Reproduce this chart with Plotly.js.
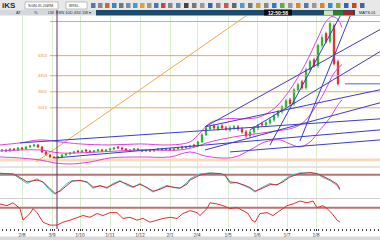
<!DOCTYPE html>
<html><head><meta charset="utf-8">
<script src="https://cdn.plot.ly/plotly-3.0.1.min.js"></script>
<style>html,body{margin:0;padding:0;background:#fff;}#c{width:380px;height:240px;}</style>
</head><body><div id="c"></div>
<script>
// ---- candles (bar index, price units) ----
const barIdx = Array.from({length:85},(_,i)=>i);
const openP = [15,16,15,17,16,18,17,19,20,21, 19,14,11,9,8,9,11,12,13,15, 14,16,15,14,15,16,15,16,17,19, 18,17,15,16,17,16,15,16,15,16, 17,16,17,16,17,19,18,19,21,20, 24,31,37,40,37,40,38,36,38,39, 37,34,30,34,38,42,41,43,46,50, 54,59,66,62,76,84,78,96,106,100, 120,132,124,140,104];
const closeP = [16,15,17,16,18,17,19,20,21,19, 14,11,9,8,9,11,12,13,14,14, 15,15,14,15,16,15,16,17,18,18, 17,16,16,17,16,15,16,15,16,17, 16,17,16,17,18,18,19,20,20,24, 31,38,39,38,39,38,37,38,39,37, 34,30,34,38,40,41,43,46,50,54, 59,65,62,76,81,78,96,104,100,120, 128,124,142,102,82];
const highP = [17,17,18,18,19,19,20,21,22,22, 20,15,12,10,10,12,13,14,15,16, 16,17,16,16,17,17,17,18,19,20, 19,18,17,18,18,17,17,17,17,18, 18,18,18,18,19,20,20,21,22,25, 33,40,41,42,41,42,40,40,41,41, 39,36,36,40,42,44,45,48,52,56, 61,67,68,78,83,86,98,106,108,122, 131,134,145,142,106];
const lowP = [14,14,14,15,15,16,16,18,19,18, 13,10,8,7,7,8,10,11,12,13, 13,14,13,13,14,14,14,15,16,17, 16,15,14,15,15,14,14,14,14,15, 15,15,15,15,16,17,17,18,19,19, 23,30,36,36,35,36,35,34,36,35, 32,28,28,32,36,39,39,41,44,48, 52,57,60,60,74,76,76,94,98,98, 118,122,122,100,80];

// ---- Bollinger-style bands ----
const upX = [-0.5,4.5,9.5,14.5,19.5,27,34.5,42,47,49.5,52,55.75,60.75,64.5,68.25,72,75.75,79,81,82.5,84,85];
const upY = [21,23,26,24,22,21,22,21,24,33,43,47,47,49,58,76,101,128,144,149,146,138];
const loX = [-0.5,4.5,9.5,13.25,17,22,27,34.5,42,47,50.75,54.5,58.25,62,65.75,69.5,72,74.5,77,79.5,82,84,85];
const loY = [9,8,6,3,2,4,8,9,9,14,10,8,9,16,24,26,22,19,24,36,48,61,66];
const midX = [-0.5,9.5,14.5,24.5,34.5,44.5,48.25,52,59.5,67,74.5,79.5,83.25,85];
const midY = [15,16,13,14,16,16,19,24,30,34,41,66,94,101];

// ---- trend lines (x0,y0,x1,y1) ----
const trendX0 = [4.5,13.25,50.75,62,50.75,50.75,57,67,74.5];
const trendY0 = [23,8,39,36,39,16,14,21,25];
const trendX1 = [94.5,94.5,94.5,94.5,94.5,94.5,94.5,84.6,87.1];
const trendY1 = [47,36,136,114,76,63,26,150,150];

// ---- horizontal levels ----
const levelY = [144,110,90,74,58];
const levelLabels = ["","6353","4353","3652","5013"];
const levelStartX = 12;
const diagX = [8.5,61.5];
const diagY = [4,151];
const supportY = 6;
const lastLineX = [85.75,94.5];
const lastLineY = [82,82];
const cursorX = 13.75;

// ---- stochastic ----
const stochX = [-0.5,2.75,4,6.25,8.75,10.25,12,13.25,14.5,16.25, 17.5,19.5,21.25,22.75,24.5,26.25,27.75,29.5,31.25,32.75, 34.5,36.25,37.75,39.5,41.25,42.75,44.5,46.25,47,49.5, 52,54.5,55.75,57,58.75,60.25,62,63.25,64.5,67, 68.75,70.25,72,74.5,77,78.75,80.25,82,83.75,84.5];
const stochK = [78,78,66,47,62,50,25,12,25,47, 56,56,50,31,41,31,47,56,41,34, 47,31,19,31,41,34,31,50,62,78, 81,78,72,47,50,41,31,19,31,47, 41,56,72,81,81,78,66,56,41,25];
const stochD = [80,77,70,52,58,52,30,15,22,42, 54,57,52,35,39,34,44,54,45,36, 44,34,22,28,38,36,32,45,58,74, 80,79,74,52,49,43,34,22,28,43, 43,52,68,79,82,79,70,59,45,29];
const stochLevel = 75;

// ---- RSI ----
const rsiX = [-0.5,1.25,2.75,4.5,5.25,7,7.75,8.75,10.25,12, 13.75,15.25,17,18.75,20.25,22,23.75,25.25,27,28.75, 30.25,32,33.75,35.25,37,38.75,40.25,42,43.75,45.25, 47,48.75,49.5,51.25,52,53.75,55.25,57,58.75,60.25, 61.5,62.5,63.25,64.5,66.25,67.75,69.5,71.25,72.75,74.5, 76.25,77.75,78.75,80.25,81.25,82.5,83.75,84.5];
const rsiY = [83,77,87,67,27,50,67,53,20,10, 10,20,27,37,43,37,50,43,53,53, 33,37,27,33,20,27,33,37,33,50, 60,53,43,67,87,83,77,67,70,60, 50,27,20,50,53,43,60,77,83,93, 87,93,70,77,67,50,27,20];
const rsiLevel = 70;

// ---- x axis ticks ----
const tickVals = [5,12.5,19.5,27,34.5,42,48.75,56.5,63.75,71.25,78.5];
const tickText = ["2/8","3/9","1/10","1/11","1/12","2/1","2/4","1/5","1/6","1/7","1/8"];
const xRange = [-0.5,94.5];

const BLUE = '#3b3bc9', MAG = '#dd44dd', ORANGE = '#f0a850';
const traces = [];
levelY.forEach(v=>traces.push({x:[levelStartX,xRange[1]],y:[v,v],mode:'lines',line:{color:ORANGE,width:1},hoverinfo:'skip'}));
traces.push({x:xRange,y:[supportY,supportY],mode:'lines',line:{color:'#f7d9bd',width:3},hoverinfo:'skip'});
traces.push({x:diagX,y:diagY,mode:'lines',line:{color:ORANGE,width:1},hoverinfo:'skip'});
traces.push({x:upX,y:upY,mode:'lines',line:{color:MAG,width:1,shape:'spline'},hoverinfo:'skip'});
traces.push({x:loX,y:loY,mode:'lines',line:{color:MAG,width:1,shape:'spline'},hoverinfo:'skip'});
traces.push({x:midX,y:midY,mode:'lines',line:{color:MAG,width:1,shape:'spline'},hoverinfo:'skip'});
trendX0.forEach((x0,i)=>traces.push({x:[x0,trendX1[i]],y:[trendY0[i],trendY1[i]],mode:'lines',line:{color:BLUE,width:1},hoverinfo:'skip'}));
traces.push({x:lastLineX,y:lastLineY,mode:'lines',line:{color:'#8d9cc4',width:1.5},hoverinfo:'skip'});
traces.push({type:'candlestick',x:barIdx,open:openP,high:highP,low:lowP,close:closeP,
  increasing:{line:{color:'#1fae1f',width:0.8},fillcolor:'#1fae1f'},
  decreasing:{line:{color:'#e02020',width:0.8},fillcolor:'#e02020'},whiskerwidth:0,hoverinfo:'skip'});
traces.push({x:xRange,y:[stochLevel,stochLevel],yaxis:'y2',mode:'lines',line:{color:'#b87474',width:2},hoverinfo:'skip'});
traces.push({x:stochX,y:stochK,yaxis:'y2',mode:'lines',line:{color:'#3cc8c8',width:1},hoverinfo:'skip'});
traces.push({x:stochX,y:stochD,yaxis:'y2',mode:'lines',line:{color:'#c83040',width:1},hoverinfo:'skip'});
traces.push({x:xRange,y:[rsiLevel,rsiLevel],yaxis:'y3',mode:'lines',line:{color:'#b87474',width:2},hoverinfo:'skip'});
traces.push({x:rsiX,y:rsiY,yaxis:'y3',mode:'lines',line:{color:'#e03030',width:1},hoverinfo:'skip'});

const H = 240;
const py = p => 1 - p/H;
const px = p => p/380;
const shapes = [];
const annotations = [];
shapes.push({type:'rect',xref:'paper',yref:'paper',x0:0,x1:1,y0:py(10),y1:1,fillcolor:'#e8e8e8',line:{width:0},layer:'below'});
shapes.push({type:'rect',xref:'paper',yref:'paper',x0:0,x1:px(96),y0:py(15.5),y1:py(10),fillcolor:'#d3d9de',line:{width:0}});
shapes.push({type:'rect',xref:'paper',yref:'paper',x0:px(96),x1:1,y0:py(15.5),y1:py(10),fillcolor:'#1d4b6c',line:{width:0}});
shapes.push({type:'rect',xref:'paper',yref:'paper',x0:px(264),x1:px(292),y0:py(15.5),y1:py(9.5),fillcolor:'#0c0c14',line:{width:0}});
shapes.push({type:'rect',xref:'paper',yref:'paper',x0:px(324),x1:px(333),y0:py(15),y1:py(10.5),fillcolor:'#c9e8b0',line:{width:0}});
shapes.push({type:'rect',xref:'paper',yref:'paper',x0:px(333),x1:px(343),y0:py(15),y1:py(10.5),fillcolor:'#2f7d2f',line:{width:0}});
shapes.push({type:'rect',xref:'paper',yref:'paper',x0:px(343),x1:px(353),y0:py(15),y1:py(10.5),fillcolor:'#a02828',line:{width:0}});
shapes.push({type:'rect',xref:'paper',yref:'paper',x0:px(355),x1:1,y0:py(15.5),y1:py(10),fillcolor:'#e4e4e4',line:{width:0}});
shapes.push({type:'rect',xref:'paper',yref:'paper',x0:px(25),x1:px(58),y0:py(9),y1:py(2),fillcolor:'#ffffff',line:{color:'#9a9a9a',width:0.6}});
shapes.push({type:'rect',xref:'paper',yref:'paper',x0:px(66),x1:px(87),y0:py(9),y1:py(2),fillcolor:'#ffffff',line:{color:'#9a9a9a',width:0.6}});
const iconX = [91,98,105,112,119,126,133,140,147,154,161,168,176,184,192,200,208,216,224,232,240,248,256,264,272,280,288,296,304,312,320,328,336,344,352,360];
const iconC = ['#5577aa','#888','#cc6633','#3388cc','#777','#6a8fc0','#3aa0d0','#e2a030','#999','#4477bb','#cc4444','#888','#6688aa','#444','#777','#999','#3366aa','#888','#cc5555','#666','#5599cc','#777','#c9a040','#888','#3a7ab8','#66aa44','#999','#d08a30','#5577aa','#999','#cc8833','#3a8ad0','#88aa33','#3366bb','#cc4422','#446699'];
iconX.forEach((x,i)=>shapes.push({type:'rect',xref:'paper',yref:'paper',x0:px(x),x1:px(x+4.5),y0:py(8),y1:py(3),fillcolor:iconC[i],line:{width:0}}));
shapes.push({type:'line',xref:'paper',yref:'paper',x0:0,x1:1,y0:py(167),y1:py(167),line:{color:'#c9c9c9',width:1}});
shapes.push({type:'line',xref:'paper',yref:'paper',x0:0,x1:1,y0:py(198.5),y1:py(198.5),line:{color:'#d0d0d0',width:1}});
shapes.push({type:'rect',xref:'paper',yref:'paper',x0:0,x1:1,y0:0,y1:py(236.5),fillcolor:'#d9d9d9',line:{width:0}});
shapes.push({type:'line',xref:'x',yref:'paper',x0:cursorX,x1:cursorX,y0:py(229),y1:py(10),line:{color:'#6a2d6a',width:1}});

const tf = 'Liberation Sans, Arial, sans-serif';
annotations.push({xref:'paper',yref:'paper',x:0,y:py(5),xanchor:'left',yanchor:'middle',text:'<b>iKS</b>',showarrow:false,font:{family:tf,size:8,color:'#1c2a44'}});
annotations.push({xref:'paper',yref:'paper',x:px(26),y:py(5.5),xanchor:'left',yanchor:'middle',text:'SGN-III-20ИМ',showarrow:false,font:{family:tf,size:4,color:'#333'}});
annotations.push({xref:'paper',yref:'paper',x:px(67),y:py(5.5),xanchor:'left',yanchor:'middle',text:'8RSL',showarrow:false,font:{family:tf,size:4,color:'#333'}});
annotations.push({xref:'paper',yref:'paper',x:px(14),y:py(12.8),xanchor:'left',yanchor:'middle',text:'AT',showarrow:false,font:{family:tf,size:4,color:'#333'}});
annotations.push({xref:'paper',yref:'paper',x:px(32),y:py(12.8),xanchor:'left',yanchor:'middle',text:'%',showarrow:false,font:{family:tf,size:4,color:'#333'}});
annotations.push({xref:'paper',yref:'paper',x:px(46),y:py(12.8),xanchor:'left',yanchor:'middle',text:'LW  ESN 10D 4X4 1W ▾',showarrow:false,font:{family:tf,size:4,color:'#333'}});
annotations.push({xref:'paper',yref:'paper',x:px(278),y:py(12.6),xanchor:'center',yanchor:'middle',text:'<b>12:50:58</b>',showarrow:false,font:{family:tf,size:5,color:'#ffffff'}});
annotations.push({xref:'paper',yref:'paper',x:px(367),y:py(12.8),xanchor:'center',yanchor:'middle',text:'MATS-01',showarrow:false,font:{family:tf,size:4,color:'#222'}});
levelY.forEach((v,i)=>{ if(levelLabels[i]) annotations.push({xref:'x',yref:'y',x:10.25,y:v,xanchor:'center',yanchor:'middle',text:levelLabels[i],showarrow:false,font:{family:tf,size:4,color:'#e0924a'}}); });

const layout = {
  width:380,height:240,margin:{l:0,r:0,t:0,b:0},paper_bgcolor:'#ffffff',plot_bgcolor:'#ffffff',showlegend:false,boxgap:0.5,
  xaxis:{range:xRange,anchor:'y3',domain:[0,1],rangeslider:{visible:false},tickmode:'array',tickvals:tickVals,ticktext:tickText,
    showgrid:true,gridcolor:'#d9edcf',gridwidth:1,zeroline:false,showline:false,ticks:'outside',ticklen:2,tickcolor:'#333',
    tickfont:{family:tf,size:5,color:'#333'},automargin:false,
    minor:{tickmode:'linear',tick0:0,dtick:1,ticks:'outside',ticklen:2,tickcolor:'#444',showgrid:false}},
  yaxis:{domain:[py(166),py(15.5)],range:[0,150],showticklabels:false,showgrid:false,zeroline:false,fixedrange:true},
  yaxis2:{domain:[py(198),py(167)],range:[0,100],showticklabels:false,showgrid:false,zeroline:false},
  yaxis3:{domain:[py(228),py(199)],range:[0,100],showticklabels:false,showgrid:false,zeroline:false},
  shapes:shapes,annotations:annotations
};
Plotly.newPlot('c',traces,layout,{staticPlot:true,displayModeBar:false});
</script></body></html>
